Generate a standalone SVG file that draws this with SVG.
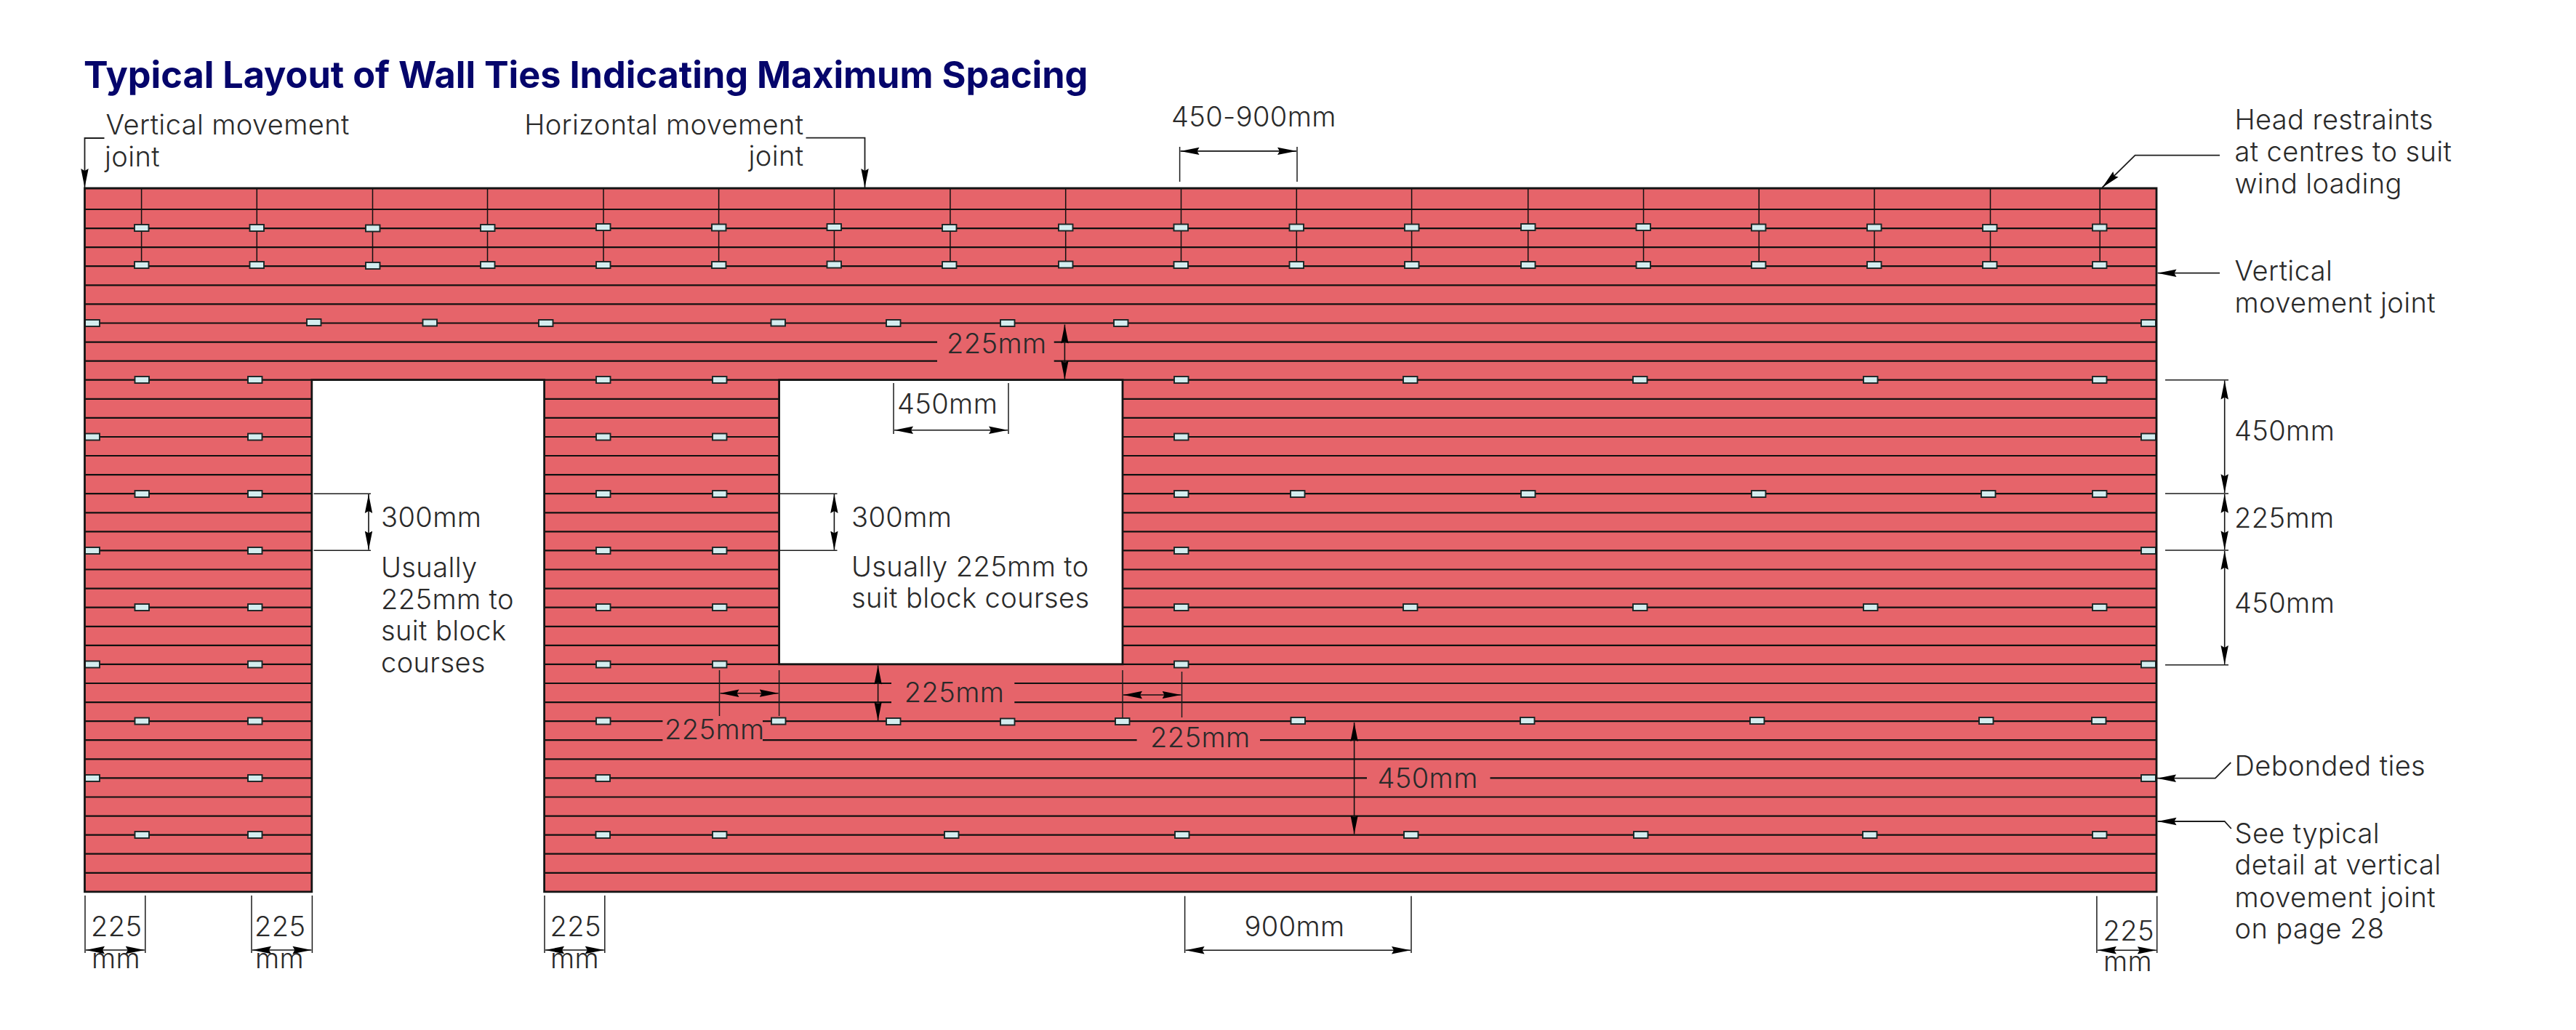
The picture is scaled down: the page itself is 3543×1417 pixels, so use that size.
<svg xmlns="http://www.w3.org/2000/svg" width="3543" height="1417" viewBox="0 0 3543 1417">
<style>
text{font-family:"Inter","Lato","Liberation Sans",sans-serif;font-weight:300;font-size:38px;letter-spacing:.4px;fill:#2a2a2a}
.title{font-weight:700;font-size:50.4px;letter-spacing:0;fill:#05056b}
.wall{fill:#e6646a}
.outline{fill:none;stroke:#141414;stroke-width:2.8}
.course{fill:none;stroke:#111;stroke-width:2.2}
.tie{fill:#d3edef;stroke:#1a2525;stroke-width:1.9}
.hd{stroke:#111;stroke-width:1.5;fill:none}
.ext{stroke:#1c1c1c;stroke-width:1.5;fill:none}
.dim{stroke:#111;stroke-width:1.6;fill:none;marker-start:url(#ah);marker-end:url(#ah)}
.ld{stroke:#1c1c1c;stroke-width:1.8;fill:none;marker-end:url(#ah)}
</style>
<defs>
<marker id="ah" markerUnits="userSpaceOnUse" markerWidth="27" markerHeight="12" refX="26" refY="6" orient="auto-start-reverse"><path d="M0 0.8L26 6L0 11.2L3 6Z" fill="#000"/></marker>
</defs>
<text class="title" x="115" y="121">Typical Layout of Wall Ties Indicating Maximum Spacing</text>
<g id="wall">
<path class="wall" fill-rule="evenodd" d="M116.5 259H2966V1226.9H748.6V522.7H428.8V1226.9H116.5ZM1071.6 522.7H1544V913.9H1071.6Z"/>
<path class="course" d="M116.5 288H2966M116.5 314.1H2966M116.5 340.2H2966M116.5 366.2H2966M116.5 392.3H2966M116.5 418.4H2966M116.5 444.5H2966M116.5 470.6H1289M1449.7 470.6H2966M116.5 496.6H1289M1449.7 496.6H2966M116.5 522.7H2966
M116.5 548.8H428.8M748.6 548.8H1071.6M1544 548.8H2966
M116.5 574.9H428.8M748.6 574.9H1071.6M1544 574.9H2966
M116.5 601H428.8M748.6 601H1071.6M1544 601H2966
M116.5 627H428.8M748.6 627H1071.6M1544 627H2966
M116.5 653.1H428.8M748.6 653.1H1071.6M1544 653.1H2966
M116.5 679.2H428.8M748.6 679.2H1071.6M1544 679.2H2966
M116.5 705.3H428.8M748.6 705.3H1071.6M1544 705.3H2966
M116.5 731.4H428.8M748.6 731.4H1071.6M1544 731.4H2966
M116.5 757.4H428.8M748.6 757.4H1071.6M1544 757.4H2966
M116.5 783.5H428.8M748.6 783.5H1071.6M1544 783.5H2966
M116.5 809.6H428.8M748.6 809.6H1071.6M1544 809.6H2966
M116.5 835.7H428.8M748.6 835.7H1071.6M1544 835.7H2966
M116.5 861.8H428.8M748.6 861.8H1071.6M1544 861.8H2966
M116.5 887.8H428.8M748.6 887.8H1071.6M1544 887.8H2966
M116.5 913.9H428.8M748.6 913.9H2966
M116.5 940H428.8M748.6 940H1226M1395.3 940H2966
M116.5 966.1H428.8M748.6 966.1H1226M1395.3 966.1H2966
M116.5 992.2H428.8M748.6 992.2H911.4M1049 992.2H2966
M116.5 1018.2H428.8M748.6 1018.2H911.4M1049 1018.2H1563.6M1733 1018.2H2966
M116.5 1044.3H428.8M748.6 1044.3H2966
M116.5 1070.4H428.8M748.6 1070.4H1880M2049.5 1070.4H2966
M116.5 1096.5H428.8M748.6 1096.5H2966
M116.5 1122.6H428.8M748.6 1122.6H2966
M116.5 1148.6H428.8M748.6 1148.6H2966
M116.5 1174.7H428.8M748.6 1174.7H2966
M116.5 1200.8H428.8M748.6 1200.8H2966"/>
<path class="hd" d="M194.6 259V366M353.3 259V366M512.5 259V366M670.5 259V366M830 259V366M988.6 259V366M1147.4 259V366M1306.9 259V366M1465.7 259V366M1624.5 259V366M1783.3 259V366M1941.6 259V366M2101.7 259V366M2260.5 259V366M2419.3 259V366M2578 259V366M2737.5 259V366M2888.2 259V366"/>
</g>
<g id="ties">
<rect class="tie" x="185" y="309" width="19.5" height="9"/><rect class="tie" x="343.5" y="309" width="19.5" height="9"/><rect class="tie" x="503" y="309.5" width="19.5" height="9"/><rect class="tie" x="661" y="309" width="19.5" height="9"/><rect class="tie" x="820" y="308" width="19.5" height="9"/><rect class="tie" x="979" y="308.5" width="19.5" height="9"/><rect class="tie" x="1137.5" y="308" width="19.5" height="9"/><rect class="tie" x="1296" y="309" width="19.5" height="9"/><rect class="tie" x="1456" y="308.5" width="19.5" height="9"/><rect class="tie" x="1614.5" y="308.5" width="19.5" height="9"/><rect class="tie" x="1773.5" y="308.5" width="19.5" height="9"/><rect class="tie" x="1932" y="308.5" width="19.5" height="9"/><rect class="tie" x="2092" y="308" width="19.5" height="9"/><rect class="tie" x="2250.5" y="308" width="19.5" height="9"/><rect class="tie" x="2409" y="308.5" width="19.5" height="9"/><rect class="tie" x="2568" y="308.5" width="19.5" height="9"/><rect class="tie" x="2727" y="309" width="19.5" height="9"/><rect class="tie" x="2878" y="308.5" width="19.5" height="9"/>
<rect class="tie" x="185" y="360" width="19.5" height="9"/><rect class="tie" x="343.5" y="360" width="19.5" height="9"/><rect class="tie" x="503" y="361" width="19.5" height="9"/><rect class="tie" x="661" y="360" width="19.5" height="9"/><rect class="tie" x="820" y="360" width="19.5" height="9"/><rect class="tie" x="979" y="360" width="19.5" height="9"/><rect class="tie" x="1137.5" y="359.5" width="19.5" height="9"/><rect class="tie" x="1296" y="360" width="19.5" height="9"/><rect class="tie" x="1456" y="359.5" width="19.5" height="9"/><rect class="tie" x="1614.5" y="360" width="19.5" height="9"/><rect class="tie" x="1773.5" y="360" width="19.5" height="9"/><rect class="tie" x="1932" y="360" width="19.5" height="9"/><rect class="tie" x="2092" y="360" width="19.5" height="9"/><rect class="tie" x="2250.5" y="360" width="19.5" height="9"/><rect class="tie" x="2409" y="360" width="19.5" height="9"/><rect class="tie" x="2568" y="360" width="19.5" height="9"/><rect class="tie" x="2727" y="360" width="19.5" height="9"/><rect class="tie" x="2878" y="360" width="19.5" height="9"/>
<rect class="tie" x="117" y="440" width="20" height="9"/><rect class="tie" x="422" y="439" width="19.5" height="9"/><rect class="tie" x="581.5" y="439.5" width="19.5" height="9"/><rect class="tie" x="741" y="440" width="19.5" height="9"/><rect class="tie" x="1060.5" y="439.5" width="19.5" height="9"/><rect class="tie" x="1219" y="440" width="19.5" height="9"/><rect class="tie" x="1376" y="440" width="19.5" height="9"/><rect class="tie" x="1532" y="440" width="19.5" height="9"/><rect class="tie" x="2945" y="440" width="20" height="9"/>
<rect class="tie" x="185.5" y="518" width="19.5" height="9"/><rect class="tie" x="341" y="518" width="19.5" height="9"/><rect class="tie" x="820" y="518" width="19.5" height="9"/><rect class="tie" x="980" y="518" width="19.5" height="9"/><rect class="tie" x="1615" y="518" width="19.5" height="9"/><rect class="tie" x="1930" y="518" width="19.5" height="9"/><rect class="tie" x="2246" y="518" width="19.5" height="9"/><rect class="tie" x="2563" y="518" width="19.5" height="9"/><rect class="tie" x="2878" y="518" width="19.5" height="9"/>
<rect class="tie" x="117" y="596.5" width="20" height="9"/><rect class="tie" x="341" y="596.5" width="19.5" height="9"/><rect class="tie" x="820" y="596.5" width="19.5" height="9"/><rect class="tie" x="980" y="596.5" width="19.5" height="9"/><rect class="tie" x="1615" y="596.5" width="19.5" height="9"/><rect class="tie" x="2945" y="596.5" width="20" height="9"/>
<rect class="tie" x="185.5" y="675" width="19.5" height="9"/><rect class="tie" x="341" y="675" width="19.5" height="9"/><rect class="tie" x="820" y="675" width="19.5" height="9"/><rect class="tie" x="980" y="675" width="19.5" height="9"/><rect class="tie" x="1615" y="675" width="19.5" height="9"/><rect class="tie" x="1775" y="675" width="19.5" height="9"/><rect class="tie" x="2092" y="675" width="19.5" height="9"/><rect class="tie" x="2409" y="675" width="19.5" height="9"/><rect class="tie" x="2725" y="675" width="19.5" height="9"/><rect class="tie" x="2878" y="675" width="19.5" height="9"/>
<rect class="tie" x="117" y="753" width="20" height="9"/><rect class="tie" x="341" y="753" width="19.5" height="9"/><rect class="tie" x="820" y="753" width="19.5" height="9"/><rect class="tie" x="980" y="753" width="19.5" height="9"/><rect class="tie" x="1615" y="753" width="19.5" height="9"/><rect class="tie" x="2945" y="753" width="20" height="9"/>
<rect class="tie" x="185.5" y="831" width="19.5" height="9"/><rect class="tie" x="341" y="831" width="19.5" height="9"/><rect class="tie" x="820" y="831" width="19.5" height="9"/><rect class="tie" x="980" y="831" width="19.5" height="9"/><rect class="tie" x="1615" y="831" width="19.5" height="9"/><rect class="tie" x="1930" y="831" width="19.5" height="9"/><rect class="tie" x="2246" y="831" width="19.5" height="9"/><rect class="tie" x="2563" y="831" width="19.5" height="9"/><rect class="tie" x="2878" y="831" width="19.5" height="9"/>
<rect class="tie" x="117" y="909.5" width="20" height="9"/><rect class="tie" x="341" y="909.5" width="19.5" height="9"/><rect class="tie" x="820" y="909.5" width="19.5" height="9"/><rect class="tie" x="980" y="909.5" width="19.5" height="9"/><rect class="tie" x="1615" y="909.5" width="19.5" height="9"/><rect class="tie" x="2945" y="909.5" width="20" height="9"/>
<rect class="tie" x="185.5" y="987.5" width="19.5" height="9"/><rect class="tie" x="341" y="987.5" width="19.5" height="9"/><rect class="tie" x="820" y="987.5" width="19.5" height="9"/><rect class="tie" x="1061" y="987.5" width="19.5" height="9"/><rect class="tie" x="1219" y="988" width="19.5" height="9"/><rect class="tie" x="1376" y="988.5" width="19.5" height="9"/><rect class="tie" x="1534" y="988" width="19.5" height="9"/><rect class="tie" x="1775.5" y="987" width="19.5" height="9"/><rect class="tie" x="2091" y="987" width="19.5" height="9"/><rect class="tie" x="2407" y="987" width="19.5" height="9"/><rect class="tie" x="2722" y="987" width="19.5" height="9"/><rect class="tie" x="2877" y="987" width="19.5" height="9"/>
<rect class="tie" x="117" y="1066" width="20" height="9"/><rect class="tie" x="341" y="1066" width="19.5" height="9"/><rect class="tie" x="819.5" y="1066" width="19.5" height="9"/><rect class="tie" x="2945" y="1066" width="20" height="9"/>
<rect class="tie" x="185.5" y="1144" width="19.5" height="9"/><rect class="tie" x="341" y="1144" width="19.5" height="9"/><rect class="tie" x="819.5" y="1144" width="19.5" height="9"/><rect class="tie" x="980" y="1144" width="19.5" height="9"/><rect class="tie" x="1299" y="1144" width="19.5" height="9"/><rect class="tie" x="1616" y="1144" width="19.5" height="9"/><rect class="tie" x="1931" y="1144" width="19.5" height="9"/><rect class="tie" x="2247" y="1144" width="19.5" height="9"/><rect class="tie" x="2562" y="1144" width="19.5" height="9"/><rect class="tie" x="2878" y="1144" width="19.5" height="9"/>
</g>
<path id="wall-outline" class="outline" d="M116.5 259H2966V1226.9H748.6V522.7H428.8V1226.9H116.5ZM1071.6 522.7H1544V913.9H1071.6Z"/>
<g id="connectors">
<path class="ld" d="M143.5 190H116.5V258"/>
<path class="ld" d="M1108.5 189.6H1189.5V258"/>
<path class="ld" d="M3053 213.7H2936.6L2891.4 258"/>
<path class="ld" d="M3053 375.7H2967.5"/>
<path class="ld" d="M3068.3 1049L3046.8 1070.7H2967"/>
<path class="ld" d="M3068.8 1140L3059.7 1130H2967.5"/>
<path class="ext" d="M1622.6 202V250M1784 202V250"/><path class="dim" d="M1623.5 207.9H1783"/>
<path class="dim" d="M1464.4 446.5V522"/>
<path class="ext" d="M1229 527V597M1387 527V597"/><path class="dim" d="M1230 591.8H1386"/>
<path class="ext" d="M431.6 679.3H510M431.6 757.3H510"/><path class="dim" d="M507 680V756.5"/>
<path class="ext" d="M1071.6 679.3H1151.5M1071.6 757.3H1151.5"/><path class="dim" d="M1147.4 680V756.5"/>
<path class="ext" d="M2978 522.7H3065M2978 679H3065M2978 757H3065M2978 914.7H3065"/>
<path class="dim" d="M3059.7 523.5V678.2"/><path class="dim" d="M3059.7 679.8V756.2"/><path class="dim" d="M3059.7 757.8V913.9"/>
<path class="dim" d="M1207.6 915.5V991.5"/>
<path class="ext" d="M989.5 922V985M1071.6 922V985"/><path class="dim" d="M990.5 953.7H1070.6"/>
<path class="ext" d="M1544 922V987M1625.5 924V987"/><path class="dim" d="M1545 956H1624.5"/>
<path class="dim" d="M1862.6 994V1147.5"/>
<path class="ext" d="M1629.6 1232.7V1311M1941 1232.7V1311"/><path class="dim" d="M1630.6 1307.3H1940"/>
<path class="ext" d="M117 1232V1311M199.8 1232V1311"/><path class="dim" d="M118 1307H198.8"/>
<path class="ext" d="M346 1232V1311M429.4 1232V1311"/><path class="dim" d="M347 1307H428.4"/>
<path class="ext" d="M749 1232V1311M831.8 1232V1311"/><path class="dim" d="M750 1307H830.8"/>
<path class="ext" d="M2883.9 1232.7V1311M2966.7 1232.7V1311"/><path class="dim" d="M2884.9 1307.3H2965.7"/>
</g>
<g id="labels">
<text x="145.5" y="185">Vertical movement</text>
<text x="144" y="229">joint</text>
<text x="1105.5" y="185" text-anchor="end">Horizontal movement</text>
<text x="1105.5" y="228" text-anchor="end">joint</text>
<text x="1611" y="174.3">450-900mm</text>
<text x="3073.5" y="178.3">Head restraints</text>
<text x="3073.5" y="221.7">at centres to suit</text>
<text x="3073.5" y="265.7">wind loading</text>
<text x="3073.5" y="386">Vertical</text>
<text x="3073.5" y="430">movement joint</text>
<text x="1302" y="486">225mm</text>
<text x="1234" y="569.3">450mm</text>
<text x="3073" y="606">450mm</text>
<text x="3073" y="726">225mm</text>
<text x="3073" y="843.3">450mm</text>
<text x="524" y="725.3">300mm</text>
<text x="524" y="794">Usually</text>
<text x="524" y="837.7">225mm to</text>
<text x="524" y="881.3">suit block</text>
<text x="524" y="925">courses</text>
<text x="1171" y="725.3">300mm</text>
<text x="1171" y="792.7">Usually 225mm to</text>
<text x="1171" y="836">suit block courses</text>
<text x="1243.8" y="965.7">225mm</text>
<text x="914" y="1016.7">225mm</text>
<text x="1582" y="1028">225mm</text>
<text x="1894.5" y="1084.3">450mm</text>
<text x="1711.5" y="1288.3">900mm</text>
<text x="3073.5" y="1066.7">Debonded ties</text>
<text x="3073.5" y="1160">See typical</text>
<text x="3073.5" y="1203.3">detail at vertical</text>
<text x="3073.5" y="1247.7">movement joint</text>
<text x="3073.5" y="1290.7">on page 28</text>
<text x="125" y="1288.3">225</text><text x="126" y="1331.7">mm</text>
<text x="350" y="1288.3">225</text><text x="351" y="1331.7">mm</text>
<text x="756.6" y="1288.3">225</text><text x="757" y="1331.7">mm</text>
<text x="2892.5" y="1294">225</text><text x="2893" y="1336">mm</text>
</g>
</svg>
